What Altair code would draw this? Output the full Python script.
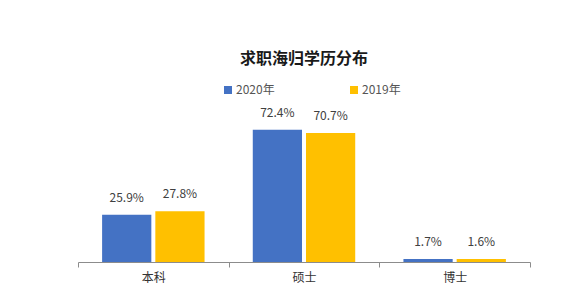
import altair as alt
import pandas as pd

categories = ["本科", "硕士", "博士"]
years = ["2020年", "2019年"]
values_2020 = [25.9, 72.4, 1.7]
values_2019 = [27.8, 70.7, 1.6]

rows = []
for i, c in enumerate(categories):
    rows.append({"学历": c, "年份": years[0], "值": values_2020[i], "标签": f"{values_2020[i]}%"})
    rows.append({"学历": c, "年份": years[1], "值": values_2019[i], "标签": f"{values_2019[i]}%"})
df = pd.DataFrame(rows)

FONT = "Noto Sans CJK SC"

x = alt.X("学历:N", sort=categories, title=None,
          scale=alt.Scale(paddingInner=0, paddingOuter=0),
          axis=alt.Axis(labelAngle=0, tickBand="extent", tickSize=5, labelPadding=5,
                        domainColor="#8c8c8c", tickColor="#8c8c8c",
                        labelFont=FONT, labelFontSize=12, labelColor="#333333"))
xo = alt.XOffset("年份:N", sort=years,
                 scale=alt.Scale(paddingInner=0.075, paddingOuter=0.453))
y = alt.Y("值:Q", scale=alt.Scale(domain=[0, 80]), axis=None)

bars = alt.Chart(df).mark_bar().encode(
    x=x, xOffset=xo, y=y,
    color=alt.Color("年份:N", sort=years,
                    scale=alt.Scale(domain=years, range=["#4472C4", "#FFC000"]),
                    legend=alt.Legend(title=None, orient="none", direction="horizontal",
                                      legendX=144, legendY=-32, symbolType="square",
                                      symbolSize=64, symbolStrokeWidth=0,
                                      labelFont=FONT, labelFontSize=12, labelColor="#555555",
                                      labelOffset=2, columnPadding=73)),
)

labels = alt.Chart(df).mark_text(dy=-10, baseline="bottom", font=FONT, fontSize=12,
                                 color="#404040").encode(
    x=x, xOffset=xo, y=y, text="标签:N"
)

chart = alt.layer(bars, labels).properties(
    width=452, height=146,
    title=alt.TitleParams("求职海归学历分布", font=FONT, fontSize=16, fontWeight="bold",
                          color="#1a1a1a", anchor="middle", offset=17),
    autosize=alt.AutoSizeParams(type="none"),
    padding={"left": 78, "top": 116, "right": 32, "bottom": 38},
).configure_view(stroke=None)

chart.save("out.html", embed_options={"renderer": "svg", "actions": False})
